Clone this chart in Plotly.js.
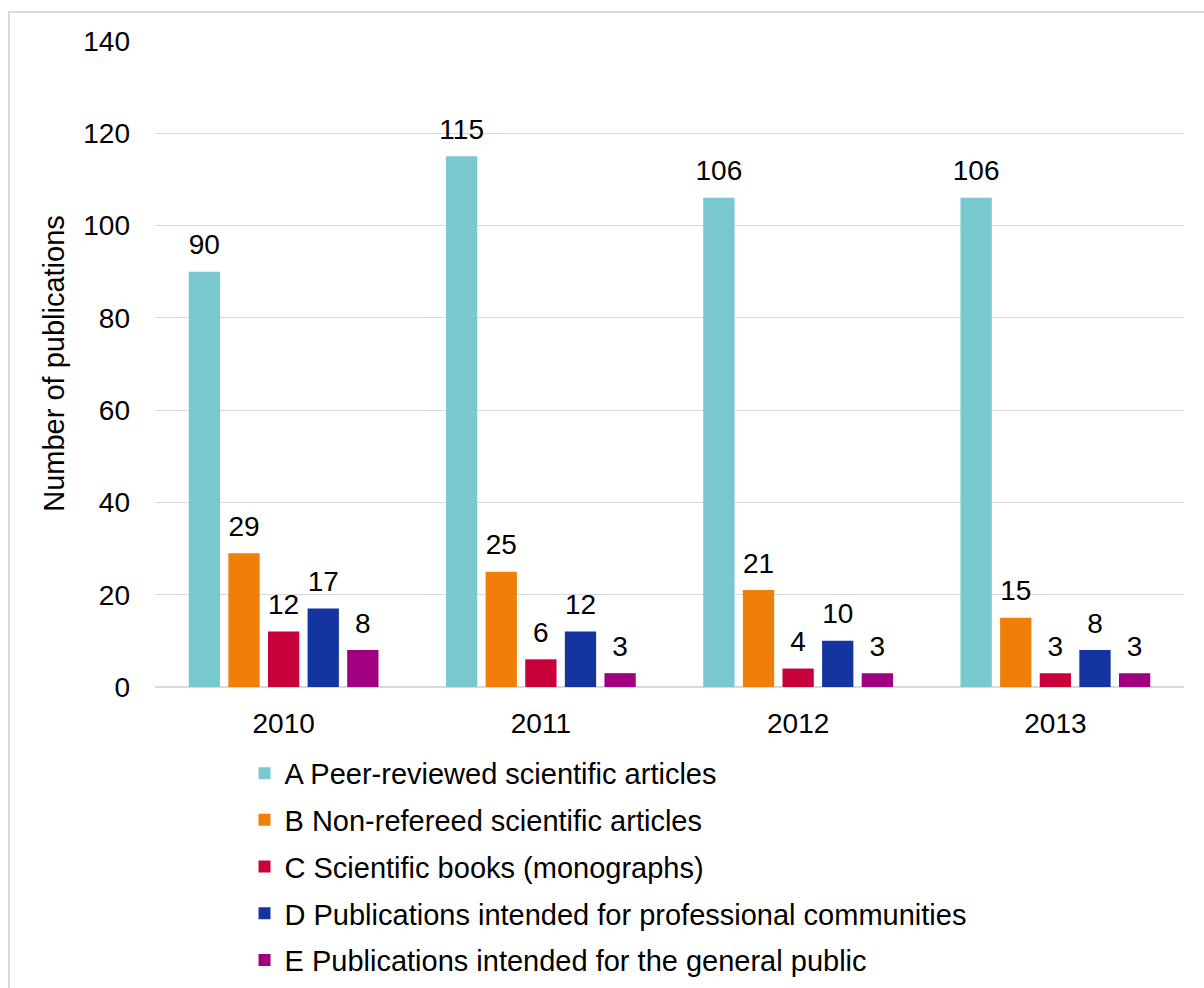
<!DOCTYPE html>
<html>
<head>
<meta charset="utf-8">
<script src="https://cdn.plot.ly/plotly-3.0.1.min.js"></script>
<style>
  html, body { margin: 0; padding: 0; background: #fff; }
  #wrap { position: relative; width: 1204px; height: 988px; overflow: hidden; }
  #frame { position: absolute; left: 8px; top: 11px; width: 1300px; height: 1100px; border: 2px solid #d9d9d9; box-sizing: border-box; pointer-events: none; z-index: 2; }
  #chart { position: absolute; left: 0; top: 0; width: 1204px; height: 988px; }
</style>
</head>
<body>
<div id="wrap">
  <div id="chart"></div>
  <div id="frame"></div>
</div>
<script>
const years = ["2010", "2011", "2012", "2013"];
const seriesNames = [
  "A Peer-reviewed scientific articles",
  "B Non-refereed scientific articles",
  "C Scientific books (monographs)",
  "D Publications intended for professional communities",
  "E Publications intended for the general public"
];
const seriesA = [90, 115, 106, 106];
const seriesB = [29, 25, 21, 15];
const seriesC = [12, 6, 4, 3];
const seriesD = [17, 12, 10, 8];
const seriesE = [8, 3, 3, 3];
const colors = ["#78C8D0", "#F07F09", "#C8003C", "#1434A0", "#A0007F"];
const yTicks = [0, 20, 40, 60, 80, 100, 120, 140];

const allSeries = [seriesA, seriesB, seriesC, seriesD, seriesE];
const font = "Liberation Sans, Arial, sans-serif";
const fs = 28;

const barTraces = allSeries.map((vals, i) => ({
  type: "bar",
  name: seriesNames[i],
  x: years,
  y: vals,
  textposition: "none",
  legendgroup: "g" + i,
  marker: { color: colors[i] },
  hoverinfo: "x+y+name"
}));

const labelTraces = allSeries.map((vals, i) => ({
  type: "scatter",
  mode: "markers+text",
  name: seriesNames[i],
  x: years,
  y: vals,
  text: vals.map(String),
  textposition: "top center",
  textfont: { family: font, size: fs, color: "#000" },
  marker: { size: 15, opacity: 0, color: colors[i] },
  cliponaxis: false,
  showlegend: false,
  legendgroup: "g" + i,
  hoverinfo: "skip"
}));

const layout = {
  width: 1204,
  height: 988,
  margin: { l: 155, r: 20, t: 40, b: 301, autoexpand: false },
  paper_bgcolor: "rgba(0,0,0,0)",
  plot_bgcolor: "#fff",
  barmode: "group",
  bargap: 0.23,
  bargroupgap: 0.21,
  scattermode: "group",
  scattergap: 0.23,
  font: { family: font, size: fs, color: "#000" },
  showlegend: true,
  legend: {
    x: 0.087, xanchor: "left",
    y: -0.094, yanchor: "top",
    orientation: "v",
    traceorder: "grouped",
    tracegroupgap: 6,
    font: { family: font, size: 29, color: "#000" },
    bgcolor: "rgba(0,0,0,0)"
  },
  xaxis: {
    type: "category",
    showgrid: false,
    showline: false,
    zeroline: false,
    ticks: "",
    tickfont: { family: font, size: fs, color: "#000" },
    ticklabelstandoff: 17
  },
  yaxis: {
    range: [0, 140.2],
    tickvals: yTicks,
    ticktext: yTicks.map(String),
    showgrid: true,
    gridcolor: "#d9d9d9",
    gridwidth: 1,
    zeroline: true,
    zerolinecolor: "#d9d9d9",
    zerolinewidth: 2,
    showline: false,
    ticks: "",
    tickfont: { family: font, size: fs, color: "#000" },
    ticklabelstandoff: 24,
    title: { text: "Number of publications", font: { family: font, size: 29, color: "#000" }, standoff: 10 }
  }
};

Plotly.newPlot("chart", barTraces.concat(labelTraces), layout, { displayModeBar: false, staticPlot: true });
</script>
</body>
</html>
